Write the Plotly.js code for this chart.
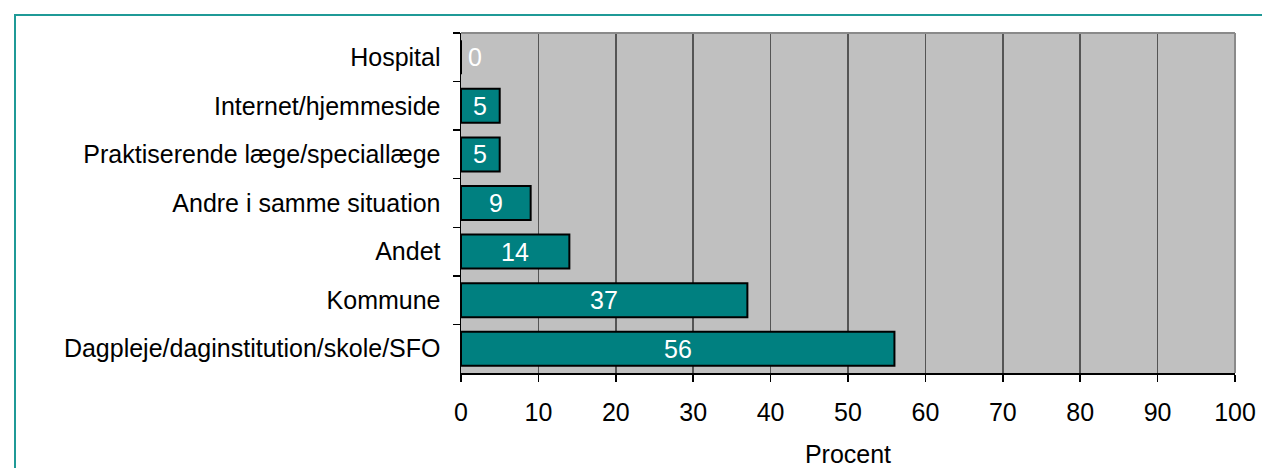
<!DOCTYPE html>
<html>
<head>
<meta charset="utf-8">
<script src="https://cdn.plot.ly/plotly-3.0.1.min.js"></script>
<style>
  html, body { margin: 0; padding: 0; background: #ffffff; }
  #wrap { position: relative; width: 1262px; height: 468px; overflow: hidden; }
  #chart { position: absolute; left: 0; top: 0; width: 1262px; height: 468px; }
  #frame {
    position: absolute; left: 14px; top: 14px; width: 1400px; height: 600px;
    border-top: 2px solid #1f9a97; border-left: 2px solid #1f9a97;
    pointer-events: none;
  }
</style>
</head>
<body>
<div id="wrap">
  <div id="chart"></div>
  <div id="frame"></div>
</div>
<script>
// Where the information came from (percent of respondents)
const categories = [
  "Hospital",
  "Internet/hjemmeside",
  "Praktiserende læge/speciallæge",
  "Andre i samme situation",
  "Andet",
  "Kommune",
  "Dagpleje/daginstitution/skole/SFO"
];
const values = [0, 5, 5, 9, 14, 37, 56];
const xTicks = [0, 10, 20, 30, 40, 50, 60, 70, 80, 90, 100];
const xTitle = "Procent";

const font = "Liberation Sans, Arial, sans-serif";
const fs = 25;

const trace = {
  type: "bar",
  orientation: "h",
  y: categories,
  x: values,
  marker: { color: "#008080", line: { color: "#000000", width: 2 } },
  hoverinfo: "skip",
  cliponaxis: false
};

// White value labels centred in each bar; a zero bar gets its label just right of the axis
const labels = values.map((v, i) => ({
  x: v > 0 ? v / 2 : 0,
  y: categories[i],
  xref: "x", yref: "y",
  text: String(v),
  showarrow: false,
  xanchor: v > 0 ? "center" : "left",
  xshift: v > 0 ? 0 : 5,
  font: { family: font, size: fs, color: "#ffffff" }
}));

const layout = {
  width: 1262, height: 468,
  margin: { l: 461, r: 27, t: 33, b: 95 },
  paper_bgcolor: "rgba(0,0,0,0)",
  plot_bgcolor: "#c0c0c0",
  showlegend: false,
  bargap: 0.3,
  font: { family: font, size: fs, color: "#000000" },
  xaxis: {
    range: [0, 100],
    tickvals: xTicks,
    ticktext: xTicks.map(String),
    showgrid: true,
    gridcolor: "#555555",
    gridwidth: 1.5,
    zeroline: false,
    showline: true,
    linecolor: "#000000",
    linewidth: 1.5,
    ticks: "outside",
    ticklen: 7,
    tickwidth: 1.5,
    tickcolor: "#000000",
    ticklabelstandoff: 9,
    tickfont: { family: font, size: fs, color: "#000000" },
    title: { text: xTitle, font: { family: font, size: fs, color: "#000000" }, standoff: 23 },
    fixedrange: true
  },
  yaxis: {
    type: "category",
    autorange: "reversed",
    showgrid: false,
    zeroline: false,
    showline: true,
    linecolor: "#000000",
    linewidth: 1.5,
    ticks: "outside",
    tickson: "boundaries",
    ticklen: 7,
    tickwidth: 1.5,
    tickcolor: "#000000",
    ticklabelstandoff: 14,
    tickfont: { family: font, size: fs, color: "#000000" },
    fixedrange: true
  },
  shapes: [
    { type: "line", xref: "paper", yref: "paper", x0: 0, x1: 1, y0: 1, y1: 1,
      line: { color: "#8a8a8a", width: 2 }, layer: "above" },
    { type: "line", xref: "paper", yref: "paper", x0: 1, x1: 1, y0: 0, y1: 1,
      line: { color: "#8a8a8a", width: 2 }, layer: "above" }
  ],
  annotations: labels
};

Plotly.newPlot("chart", [trace], layout, { staticPlot: true, displayModeBar: false });
</script>
</body>
</html>
